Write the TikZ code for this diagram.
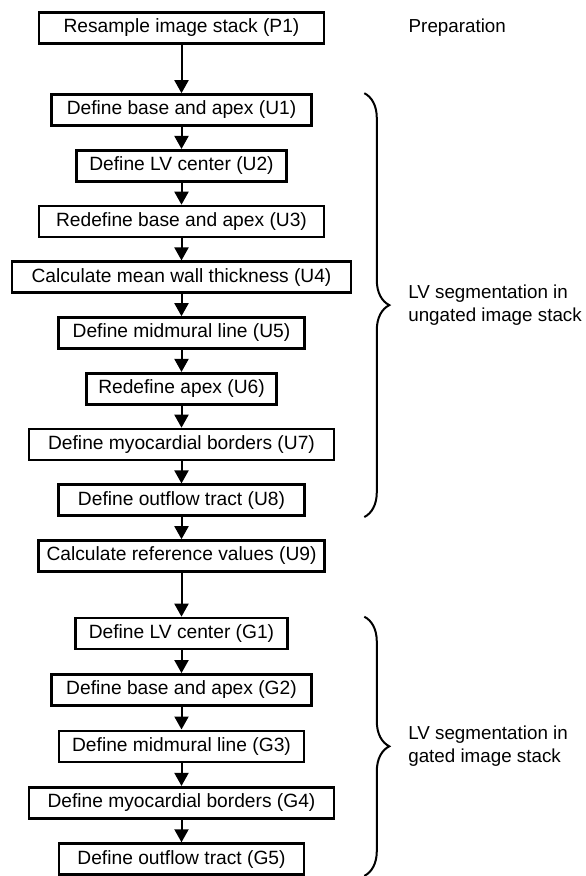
\documentclass[tikz,border=0pt]{standalone}
\usepackage{fontspec}
\setmainfont{Liberation Sans}
\usetikzlibrary{arrows.meta,positioning,calc,decorations.pathreplacing}
\tikzset{
    stepbox/.style = {rectangle,
                    fill=white,
                    draw=black,
                    text=black,
                    line width=1.3pt,
                    minimum height=15.5pt,
                    inner sep=0pt,
                    font=\fontsize{9.6}{11.5}\selectfont},
    side/.style =   {anchor=west,
                    inner sep=0pt,
                    align=left,
                    text=black,
                    font=\fontsize{9.4}{11.3}\selectfont},
    curly/.style =  {decorate,
                    decoration={brace,amplitude=12.5pt},
                    line width=1pt},
    -,
    flow/.style =   {line width=1pt},
    >={Triangle[length=6.5pt,width=7pt]},
    draw=black}

\begin{document}
\begin{tikzpicture}[node distance=27.875pt]
                \useasboundingbox (-90.75pt,14pt) rectangle (201.75pt,-424pt);
                \node[stepbox, minimum width=142.5pt] (P1) []                                  {Resample image stack (P1)};
                \node[stepbox, minimum width=130pt]   (U1) [below of=P1, node distance=41pt]    {Define base and apex (U1)};
                \node[stepbox, minimum width=105pt]   (U2) [below of=U1]                       {Define LV center (U2)};
                \node[stepbox, minimum width=142.5pt] (U3) [below of=U2]                       {Redefine base and apex (U3)};
                \node[stepbox, minimum width=169.5pt] (U4) [below of=U3]                       {Calculate mean wall thickness (U4)};
                \node[stepbox, minimum width=123pt]   (U5) [below of=U4]                       {Define midmural line (U5)};
                \node[stepbox, minimum width=95pt]    (U6) [below of=U5]                       {Redefine apex (U6)};
                \node[stepbox, minimum width=152.5pt] (U7) [below of=U6]                       {Define myocardial borders (U7)};
                \node[stepbox, minimum width=123pt]   (U8) [below of=U7]                       {Define outflow tract (U8)};
                \node[stepbox, minimum width=143pt]   (U9) [below of=U8]                       {Calculate reference values (U9)};
                \node[stepbox, minimum width=106pt]   (G1) [below of=U9, node distance=38.75pt] {Define LV center (G1)};
                \node[stepbox, minimum width=130pt]   (G2) [below of=G1, node distance=28.2pt]  {Define base and apex (G2)};
                \node[stepbox, minimum width=122.5pt] (G3) [below of=G2, node distance=28.2pt]  {Define midmural line (G3)};
                \node[stepbox, minimum width=152.5pt] (G4) [below of=G3, node distance=28.2pt]  {Define myocardial borders (G4)};
                \node[stepbox, minimum width=122.5pt] (G5) [below of=G4, node distance=28.2pt]  {Define outflow tract (G5)};
                \path [flow,->]     (P1) edge (U1)
                                    (U1) edge (U2)
                                    (U2) edge (U3)
                                    (U3) edge (U4)
                                    (U4) edge (U5)
                                    (U5) edge (U6)
                                    (U6) edge (U7)
                                    (U7) edge (U8)
                                    (U8) edge (U9)
                                    (U9) edge (G1)
                                    (G1) edge (G2)
                                    (G2) edge (G3)
                                    (G3) edge (G4)
                                    (G4) edge (G5);
                % group braces and their labels
                \node[side]         (prep) at ([xshift=28pt]P1.center -| U4.east) {Preparation};
                \draw [curly]       ([xshift=6pt]U1.north -| U4.east) -- ([xshift=6pt]U8.south -| U4.east)
                                    node [side, midway, xshift=21.5pt] (ungated) {LV segmentation in\\ungated image stack};
                \draw [curly]       ([xshift=6pt]G1.north -| U4.east) -- ([xshift=6pt]G5.south -| U4.east)
                                    node [side, midway, xshift=21.5pt] (gated) {LV segmentation in\\gated image stack};
        \end{tikzpicture}
\end{document}
